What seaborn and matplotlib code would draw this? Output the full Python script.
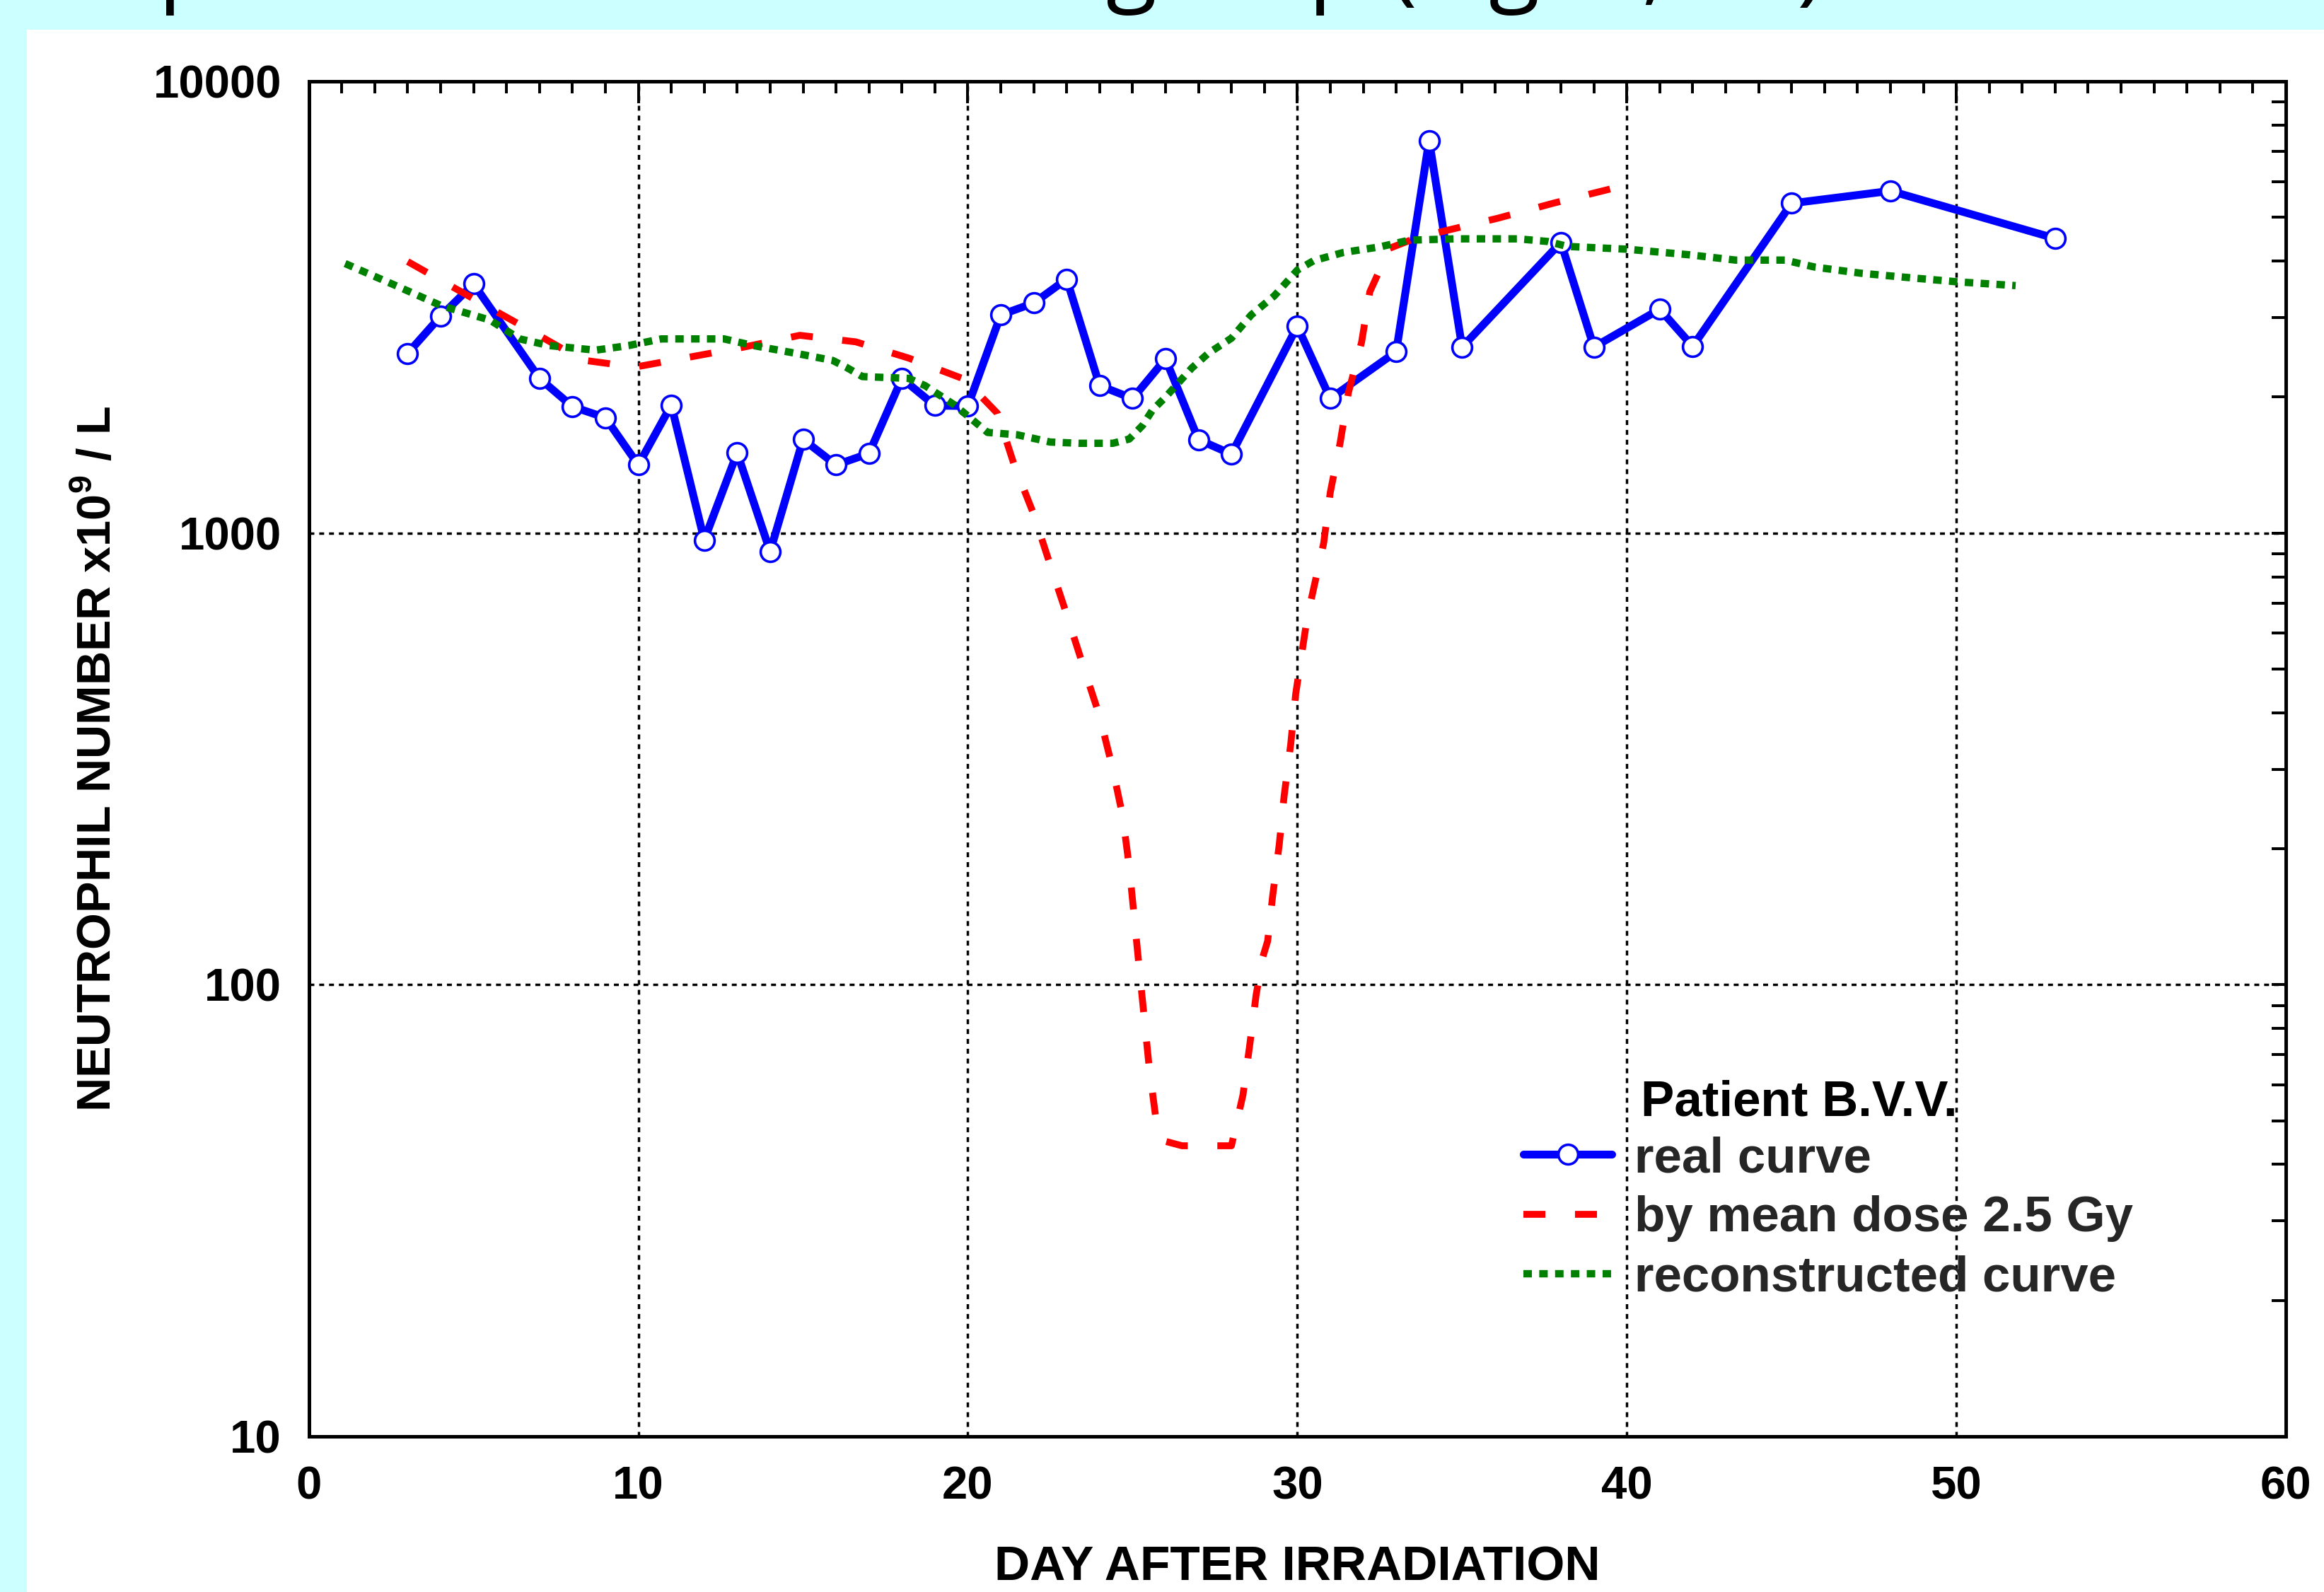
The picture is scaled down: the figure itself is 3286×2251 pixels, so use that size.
import numpy as np
import pandas as pd
import matplotlib
matplotlib.use("Agg")
import matplotlib.pyplot as plt
import seaborn as sns
from matplotlib.patches import Rectangle
from matplotlib.ticker import MultipleLocator, FixedLocator, LogLocator, NullFormatter, FuncFormatter

# ---------------- data ----------------
real_days = [3, 4, 5, 7, 8, 9, 10, 11, 12, 13, 14, 15, 16, 17, 18, 19, 20, 21, 22, 23,
             24, 25, 26, 27, 28, 30, 31, 33, 34, 35, 38, 39, 41, 42, 45, 48, 53]
real_values = [2500, 3020, 3560, 2200, 1905, 1800, 1415, 1920, 965, 1505, 910, 1612, 1415, 1500,
               2200, 1915, 1910, 3040, 3230, 3650, 2120, 1985, 2430, 1610, 1495, 2870, 1985,
               2520, 7400, 2580, 4400, 2580, 3130, 2590, 5370, 5720, 4490]

dose_days = [3.0, 5.0, 6.6, 8.3, 9.9, 11.6, 13.2, 14.9, 16.6, 18.2, 19.9, 20.9, 21.4, 22.0,
             22.5, 23.0, 23.5, 24.0, 24.4, 24.7, 24.9, 25.05, 25.2, 25.35, 25.5, 25.7, 26.0,
             26.5, 28.0, 28.35, 28.55, 28.75, 28.95, 29.1, 29.25, 29.45, 29.6, 29.8, 29.95,
             30.3, 30.8, 31.0, 31.3, 31.55, 31.95, 32.2, 32.8, 33.6, 34.5, 36.1, 37.8, 39.8]
dose_values = [3990, 3300, 2840, 2415, 2330, 2455, 2580, 2740, 2650, 2440, 2190, 1840, 1420,
               1100, 850, 660, 508, 393, 300, 236, 182, 141, 109, 85, 66, 51, 45,
               44, 44, 57, 73, 95, 115, 125, 157, 204, 262, 341, 440,
               650, 950, 1230, 1585, 2045, 2645, 3420, 4270, 4500, 4670, 4980, 5380, 5850]

recon_days = [1.1, 2.6, 4.0, 5.5, 6.4, 7.3, 8.7, 9.7, 10.7, 12.6, 13.5, 14.9, 15.9, 16.3,
              16.8, 18.2, 18.7, 19.6, 20.6, 21.5, 22.5, 23.4, 24.4, 24.9, 25.3, 25.6, 26.0,
              26.8, 27.3, 28.0, 28.6, 29.3, 30.0, 30.5, 31.4, 32.5, 33.4, 34.8, 36.7, 37.6,
              38.2, 40.0, 41.9, 43.3, 44.8, 45.7, 47.1, 48.5, 50.0, 51.8]
recon_values = [3950, 3540, 3190, 2960, 2690, 2600, 2540, 2600, 2690, 2690, 2600, 2490, 2410,
                2330, 2220, 2200, 2120, 1920, 1670, 1650, 1590, 1580, 1580, 1615, 1730, 1870,
                2000, 2320, 2500, 2700, 3040, 3350, 3820, 4010, 4180, 4300, 4450, 4480, 4480,
                4420, 4310, 4250, 4130, 4020, 4020, 3880, 3760, 3680, 3600, 3530]

x_ticks = [0, 10, 20, 30, 40, 50, 60]
y_ticks = [10, 100, 1000, 10000]

title_text = "A patient of the second group (Fig. 5, 10)"
legend_title = "Patient B.V.V."
series_labels = ["real curve", "by mean dose 2.5 Gy", "reconstructed curve"]
x_label = "DAY AFTER IRRADIATION"
y_label = r"NEUTROPHIL NUMBER x10$^{\mathbf{9}}$ / L"

# ---------------- style ----------------
sns.set_theme(style="white")
plt.rcParams["font.family"] = ["Liberation Sans", "DejaVu Sans"]
plt.rcParams["font.weight"] = "bold"
plt.rcParams["mathtext.fontset"] = "custom"
plt.rcParams["mathtext.rm"] = "Liberation Sans"
plt.rcParams["mathtext.bf"] = "Liberation Sans:bold"

W, H, DPI = 3287, 2251, 100
fig = plt.figure(figsize=(W / DPI, H / DPI), dpi=DPI, facecolor="#CCFFFF")
panel = Rectangle((38 / W, 0), 1 - 38 / W, 1 - 42 / H, transform=fig.transFigure,
                  facecolor="white", edgecolor="none", zorder=-5)
fig.add_artist(panel)
fig.text(106 / W, 1 + 10 / H, title_text, fontsize=95, family=["Open Sans", "DejaVu Sans"],
         fontweight="normal", va="baseline", ha="left", color="black", zorder=-4)

L, R, T, B = 436.7, 3232, 115, 2031
ax = fig.add_axes([L / W, 1 - B / H, (R - L) / W, (B - T) / H])
ax.set_zorder(2)
ax.set_facecolor("white")

df_real = pd.DataFrame({"day": real_days, "value": real_values})
df_dose = pd.DataFrame({"day": dose_days, "value": dose_values})
df_rec = pd.DataFrame({"day": recon_days, "value": recon_values})

sns.lineplot(data=df_real, x="day", y="value", ax=ax, color="#0000FF", linewidth=8,
             marker="o", markersize=20, markerfacecolor="white", markeredgecolor="#0000FF",
             markeredgewidth=2.6, label=series_labels[0], estimator=None, sort=False)
sns.lineplot(data=df_dose, x="day", y="value", ax=ax, color="#FF0000", linewidth=7,
             linestyle=(0, (3.2, 4.3)), label=series_labels[1], estimator=None, sort=False)
sns.lineplot(data=df_rec, x="day", y="value", ax=ax, color="#008000", linewidth=7.5,
             linestyle=(0, (1.15, 1.0)), label=series_labels[2], estimator=None, sort=False)

ax.set_yscale("log")
ax.set_xlim(0, 60)
ax.set_ylim(10, 10000)
ax.xaxis.set_major_locator(FixedLocator(x_ticks))
ax.xaxis.set_minor_locator(MultipleLocator(1))
ax.yaxis.set_major_locator(FixedLocator(y_ticks))
ax.yaxis.set_minor_locator(LogLocator(base=10, subs=np.arange(2, 10)))
ax.yaxis.set_minor_formatter(NullFormatter())
ax.yaxis.set_major_formatter(FuncFormatter(lambda v, p: f"{int(round(v))}"))
ax.xaxis.set_major_formatter(FuncFormatter(lambda v, p: f"{int(round(v))}"))

ax.tick_params(axis="both", which="both", direction="in", top=True, right=True,
               width=2.9, color="black", labelcolor="black")
ax.tick_params(axis="x", which="major", length=22, pad=30, labelsize=47)
ax.tick_params(axis="x", which="minor", length=12)
ax.tick_params(axis="y", which="both", length=14.5)
ax.tick_params(axis="y", which="major", pad=28, labelsize=47)

ax.grid(True, which="major", color="black", linestyle=(0, (2, 2)), linewidth=2.5)
ax.grid(False, which="minor")
for s in ax.spines.values():
    s.set_visible(True)
    s.set_linewidth(3.6)
    s.set_color("black")
    s.set_zorder(5)

ax.set_xlabel(x_label, fontsize=50, fontweight="bold", labelpad=37, color="black")
ax.set_ylabel(y_label, fontsize=48, fontweight="bold", labelpad=33, color="black")

handles, labels = ax.get_legend_handles_labels()
leg = ax.legend(handles, labels, loc="upper left",
                bbox_to_anchor=(2154 / W, 1 - 1606 / H), bbox_transform=fig.transFigure,
                frameon=False, handlelength=1.77, handletextpad=0.45,
                labelspacing=0.26, borderpad=0, borderaxespad=0,
                prop={"family": "Liberation Sans", "weight": "bold", "size": 51})
fig.text(2320 / W, 1 - 1577 / H, legend_title, fontsize=51, fontweight="bold",
         va="baseline", ha="left", color="black", zorder=10)

fig.savefig("out.png", dpi=DPI, facecolor=fig.get_facecolor())
